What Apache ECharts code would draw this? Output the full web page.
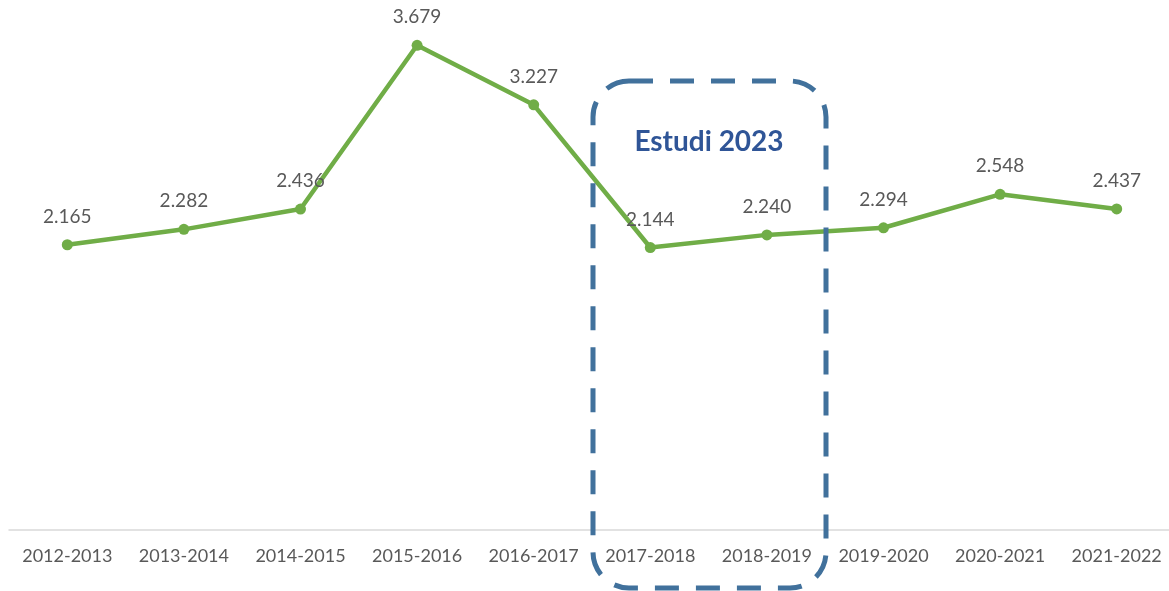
<!DOCTYPE html>
<html>
<head>
<meta charset="utf-8">
<script src="https://cdn.jsdelivr.net/npm/echarts@6/dist/echarts.min.js"></script>
<style>
  html, body { margin: 0; padding: 0; background: #fff; }
  #chart { width: 1169px; height: 591px; }
</style>
</head>
<body>
<div id="chart"></div>
<script>
const years = ["2012-2013", "2013-2014", "2014-2015", "2015-2016", "2016-2017",
  "2017-2018", "2018-2019", "2019-2020", "2020-2021", "2021-2022"];
const values = [2.165, 2.282, 2.436, 3.679, 3.227, 2.144, 2.240, 2.294, 2.548, 2.437];
const boxTitle = "Estudi 2023";

const chart = echarts.init(document.getElementById("chart"));
chart.setOption({
  animation: false,
  grid: { left: 9, right: -6, top: 3, bottom: 61, outerBoundsMode: "none", containLabel: false },
  xAxis: {
    type: "category",
    data: years,
    axisLine: { lineStyle: { color: "#d9d9d9", width: 1.5 } },
    axisTick: { show: false },
    axisLabel: {
      interval: 0,
      color: "#595959",
      fontFamily: "Lato",
      fontSize: 18,
      margin: 17
    }
  },
  yAxis: {
    type: "value",
    min: 0,
    max: 4,
    show: false,
    splitLine: { show: false }
  },
  series: [
    {
      type: "line",
      data: values,
      symbol: "circle",
      symbolSize: 11,
      itemStyle: { color: "#70ad47" },
      lineStyle: { color: "#70ad47", width: 4.5 },
      label: {
        show: true,
        position: "top",
        distance: 13,
        color: "#595959",
        fontFamily: "Lato",
        fontSize: 19,
        formatter: p => p.value.toFixed(3)
      }
    }
  ],
  graphic: [
    {
      type: "rect",
      shape: { x: 593, y: 81, width: 233, height: 507, r: 36 },
      style: {
        fill: "none",
        stroke: "#41719c",
        lineWidth: 5,
        lineDash: [24, 17]
      },
      z: 10
    },
    {
      type: "text",
      x: 709,
      y: 142,
      style: {
        text: boxTitle,
        fill: "#2f5597",
        font: "bold 28px Lato",
        align: "center",
        verticalAlign: "middle"
      },
      z: 10
    }
  ]
});
</script>
</body>
</html>
